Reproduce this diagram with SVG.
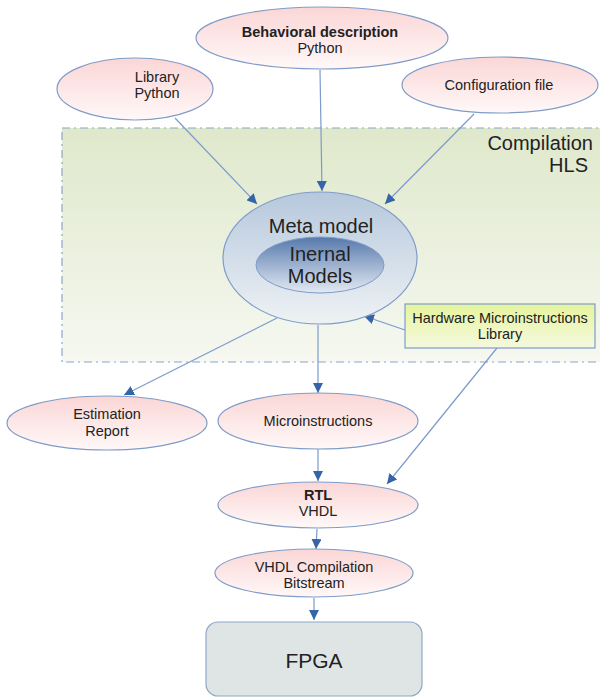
<svg xmlns="http://www.w3.org/2000/svg" width="600" height="698" viewBox="0 0 600 698">
<style>
text{font-family:"Liberation Sans",Arial,sans-serif;fill:#222;text-anchor:middle}
.n{font-size:14.5px}
.b{font-weight:bold}
.big{font-size:20px}
.ell{fill:url(#pink);stroke:#7f9cc8;stroke-width:1.2}
.conn{stroke:#7b9bcc;stroke-width:1.2;fill:none;marker-end:url(#ah)}
</style>
<defs>
<linearGradient id="pink" x1="0" y1="0" x2="0" y2="1"><stop offset="0" stop-color="#fbd6d6"/><stop offset="1" stop-color="#fff8f8"/></linearGradient>
<linearGradient id="green" x1="0" y1="0" x2="0" y2="1"><stop offset="0" stop-color="#dfe8cb"/><stop offset="1" stop-color="#f6f8f1"/></linearGradient>
<linearGradient id="meta" x1="0" y1="0" x2="0" y2="1"><stop offset="0" stop-color="#b6c8dd"/><stop offset="1" stop-color="#eef2f4"/></linearGradient>
<linearGradient id="inner" x1="0" y1="0" x2="0" y2="1"><stop offset="0" stop-color="#5679ad"/><stop offset="1" stop-color="#e3eaf2"/></linearGradient>
<linearGradient id="hw" x1="0" y1="0" x2="0" y2="1"><stop offset="0" stop-color="#e6f49c"/><stop offset="1" stop-color="#f5f9e0"/></linearGradient>
<marker id="ah" viewBox="0 0 10 10" refX="10" refY="5" markerWidth="10" markerHeight="10" markerUnits="userSpaceOnUse" orient="auto"><path d="M0,0 L10,5 L0,10 z" fill="#3565a8"/></marker>
</defs>
<g id="compilation">
<rect x="62" y="128" width="546" height="234" fill="url(#green)" stroke="#8aa6cc" stroke-width="1.2" stroke-dasharray="8,4,2,4"/>
<text x="593" y="150" class="big" style="text-anchor:end">Compilation</text>
<text x="588" y="172" class="big" style="text-anchor:end">HLS</text>
</g>
<g id="connectors">
<line class="conn" x1="175" y1="118" x2="257" y2="204"/>
<line class="conn" x1="320" y1="70" x2="322" y2="191"/>
<line class="conn" x1="474" y1="114" x2="385" y2="204"/>
<line class="conn" x1="277" y1="318" x2="124" y2="395"/>
<line class="conn" x1="318" y1="325" x2="318" y2="393"/>
<line class="conn" x1="405" y1="330" x2="364" y2="316"/>
<line class="conn" x1="497" y1="348" x2="387" y2="484"/>
<line class="conn" x1="318" y1="449" x2="318" y2="481"/>
<line class="conn" x1="317" y1="529" x2="316" y2="549"/>
<line class="conn" x1="314" y1="598" x2="314" y2="620"/>
</g>
<g id="behavioral">
<ellipse class="ell" cx="322" cy="38" rx="126" ry="31"/>
<text x="320" y="37" class="n b">Behavioral description</text>
<text x="320" y="53" class="n">Python</text>
</g>
<g id="library">
<ellipse class="ell" cx="135" cy="89" rx="78" ry="31"/>
<text x="157" y="82" class="n">Library</text>
<text x="157" y="98" class="n">Python</text>
</g>
<g id="config">
<ellipse class="ell" cx="500" cy="85" rx="98" ry="28"/>
<text x="499" y="90" class="n">Configuration file</text>
</g>
<g id="meta">
<ellipse cx="320" cy="258" rx="97" ry="66" fill="url(#meta)" stroke="#7f9cc8" stroke-width="1.2"/>
<text x="321" y="233" class="big">Meta model</text>
<ellipse cx="320" cy="265" rx="64" ry="28" fill="url(#inner)" stroke="#7f9cc8" stroke-width="1"/>
<text x="320" y="261" class="big">Inernal</text>
<text x="320" y="283" class="big">Models</text>
</g>
<g id="hwlib">
<rect x="405" y="304" width="190" height="44" fill="url(#hw)" stroke="#7f9cc8" stroke-width="1.2"/>
<text x="500" y="323" class="n">Hardware Microinstructions</text>
<text x="500" y="339" class="n">Library</text>
</g>
<g id="estimation">
<ellipse class="ell" cx="107" cy="423" rx="100" ry="27"/>
<text x="107" y="419" class="n">Estimation</text>
<text x="107" y="436" class="n">Report</text>
</g>
<g id="micro">
<ellipse class="ell" cx="318" cy="421" rx="100" ry="28"/>
<text x="318" y="426" class="n">Microinstructions</text>
</g>
<g id="rtl">
<ellipse class="ell" cx="318" cy="505" rx="100" ry="23"/>
<text x="318" y="500" class="n b">RTL</text>
<text x="318" y="516" class="n">VHDL</text>
</g>
<g id="vhdl">
<ellipse class="ell" cx="314" cy="573" rx="99" ry="24"/>
<text x="314" y="572" class="n">VHDL Compilation</text>
<text x="314" y="588" class="n">Bitstream</text>
</g>
<g id="fpga">
<rect x="206" y="622" width="216" height="74" rx="12" fill="#dfe5e4" stroke="#8fa8c8" stroke-width="1.2"/>
<text x="314" y="668" style="font-size:21px">FPGA</text>
</g>
</svg>
